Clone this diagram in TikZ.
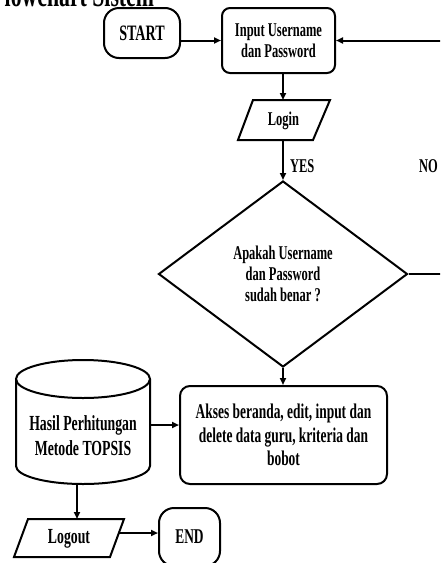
\documentclass[tikz,border=0pt]{standalone}
\usepackage{fontspec}
\setmainfont[FakeStretch=0.64]{Liberation Serif}
\usetikzlibrary{arrows.meta,shapes.geometric}
\begin{document}
\begin{tikzpicture}[x=1pt,y=-1pt,line width=2pt,
  txt/.style={font=\fontsize{19.5}{20.5}\selectfont\bfseries, align=center, inner sep=0pt},
  big/.style={font=\fontsize{21.5}{24}\selectfont\bfseries, align=center, inner sep=0pt},
  box/.style={draw, rounded corners=#1, align=center, inner sep=0pt},
  arr/.style={-{Triangle[length=7pt,width=6pt]}}]
\clip (0,0) rectangle (440,563);
\useasboundingbox (0,0) rectangle (440,563);
% title (partly cut off)
\node[font=\fontsize{34}{36}\selectfont\bfseries, anchor=base east, inner sep=0pt] (title) at (155,6) {Flowchart Sistem};
% start
\node[box=15, txt, font=\fontsize{22}{24}\selectfont\bfseries, minimum width=76, minimum height=50] (start) at (142,33) {START};
% input
\node[box=8, txt, minimum width=113, minimum height=65] (inp) at (278.5,40.5) {Input Username\\dan Password};
% login
\draw (253,100) -- (330,100) -- (313,140) -- (238,140) -- cycle;
\node[txt] (login) at (283.5,121) {Login};
\coordinate (logintop) at (283,100);
\coordinate (loginbot) at (283,140);
% decision
\node[draw, diamond, minimum width=249, minimum height=186, inner sep=0pt, aspect=1.34, txt, font=\fontsize{19.5}{21}\selectfont\bfseries] (dec) at (283,274) {Apakah Username\\dan Password\\sudah benar ?};
% akses
\node[box=10, big, font=\fontsize{21}{23.5}\selectfont\bfseries, minimum width=207, minimum height=98] (akses) at (283.5,435) {Akses beranda, edit, input dan\\delete data guru, kriteria dan\\bobot};
% cylinder
\draw (83,379) ellipse [x radius=67, y radius=19];
\draw (16,379) -- (16,466) arc[start angle=180, end angle=0, x radius=67, y radius=18] -- (150,379);
\node[big, font=\fontsize{21.5}{25}\selectfont\bfseries] (hasil) at (83,436) {Hasil Perhitungan\\Metode TOPSIS};
\coordinate (cylright) at (150,425);
\coordinate (cylbot) at (77,484);
% logout
\draw (28,519) -- (124,519) -- (110,557) -- (14,557) -- cycle;
\node[big] (logout) at (69,539) {Logout};
\coordinate (logouttop) at (77,519);
\coordinate (logoutright) at (118,533);
% end
\node[box=15, big, font=\fontsize{21}{23}\selectfont\bfseries, minimum width=61, minimum height=58] (endn) at (189.5,537) {END};
% labels
\node[txt, anchor=base west] (yes) at (289,172) {YES};
\node[txt, anchor=base west] (no) at (418,172) {NO};
% connectors
\coordinate (loopc) at (452,0);
\draw[arr] (start.east |- inp.west) -- (inp.west);
\draw[arr] (inp.south -| logintop) -- (logintop);
\draw[arr] (loginbot) -- (dec.north);
\draw[arr] (dec.south) -- (akses.north -| dec.south);
\draw[arr] (dec.east) -- (dec.east -| loopc) -- (loopc |- inp.east) -- (inp.east);
\draw[arr] (cylright) -- (akses.west |- cylright);
\draw[arr] (cylbot) -- (logouttop);
\draw[arr] (logoutright) -- (endn.west |- logoutright);
\end{tikzpicture}
\end{document}
